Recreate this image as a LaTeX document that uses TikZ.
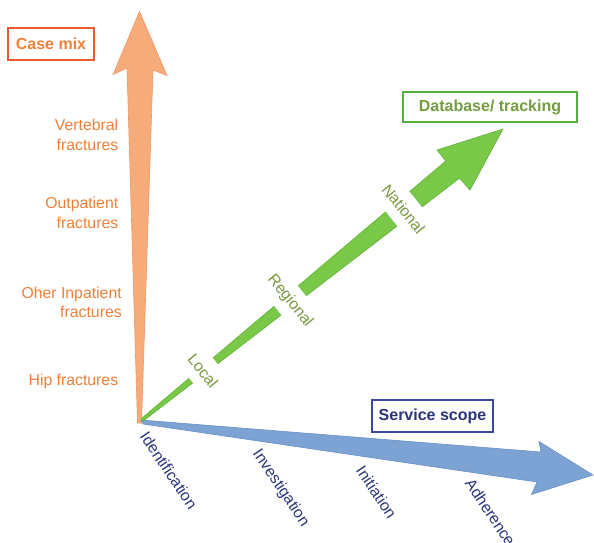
\documentclass[tikz,border=0pt]{standalone}
\usepackage{fontspec}
\setmainfont{Liberation Sans}
\usepackage{tkz-euclide}
\definecolor{mixfill}{RGB}{246,172,122}
\definecolor{mixline}{RGB}{240,150,100}
\definecolor{mixtext}{RGB}{238,128,58}
\definecolor{mixframe}{RGB}{232,92,52}
\definecolor{scopefill}{RGB}{124,163,212}
\definecolor{scopeline}{RGB}{104,144,198}
\definecolor{scopetext}{RGB}{42,52,122}
\definecolor{scopeframe}{RGB}{62,72,160}
\definecolor{dbfill}{RGB}{122,200,72}
\definecolor{dbline}{RGB}{96,180,52}
\definecolor{dbtext}{RGB}{122,152,64}
\definecolor{dbframe}{RGB}{84,176,62}

\begin{document}
\begin{tikzpicture}[x=1pt,y=-1pt,semithick,
lbl/.style={font=\fontsize{15.8}{19.5}\selectfont,inner sep=0pt},
axbox/.style={draw,line width=1.5pt,font=\fontsize{16}{18}\selectfont\bfseries,inner sep=0pt},
fracture/.style={lbl,text=mixtext,align=right,anchor=east},
phase/.style={lbl,text=scopetext,rotate=-56,anchor=north west},
level/.style={lbl,text=dbtext,fill=white,rotate=-51,minimum height=31pt,inner xsep=3pt}]
\useasboundingbox (0,0) rectangle (594,543);
\tkzDefPoints{137.5/423/M1,127/68/M2,113/74.5/M3,139.5/11.5/M4,167/75.5/M5,153/70/M6,141.5/423/M7}
\tkzDefPoints{141/420/S1,541/452/S2,539/441.5/S3,593/475/S4,531.5/494.5/S5,537/482/S6,143/424/S7}
\tkzDefPoints{141.1/418.8/D1,445.7/161/D2,437/150/D3,503/129/D4,470/190/D5,459.5/178.2/D6,142.9/421.2/D7}
\draw[mixline,fill=mixfill](M1)--(M2)--(M3)--(M4)--(M5)--(M6)--(M7)--cycle;
\draw[scopeline,fill=scopefill](S1)--(S2)--(S3)--(S4)--(S5)--(S6)--(S7)--cycle;
\draw[dbline,fill=dbfill](D1)--(D2)--(D3)--(D4)--(D5)--(D6)--(D7)--cycle;
\node[level] (local) at (203.1,370.7) {Local};
\node[level] (regional) at (289.9,300.8) {Regional};
\node[level] (national) at (403.6,209.1) {National};
\node[axbox,draw=mixframe,text=mixtext,line width=2pt,minimum width=86pt,minimum height=32pt] (casemix) at (51,44) {Case mix};
\node[axbox,draw=dbframe,text=dbtext!85!dbframe,minimum width=174pt,minimum height=30pt] (database) at (490,107) {Database/ tracking};
\node[axbox,draw=scopeframe,text=scopetext,minimum width=121pt,minimum height=32pt] (scope) at (432.5,416) {Service scope};
\node[fracture] (vertebral) at (118.5,135) {Vertebral\\fractures};
\node[fracture] (outpatient) at (118.5,213) {Outpatient\\fractures};
\node[fracture] (inpatient) at (122,302.5) {Oher Inpatient\\fractures};
\node[fracture] (hip) at (118.5,381.5) {Hip fractures};
\node[phase] (identification) at (149,430) {Identification};
\node[phase] (investigation) at (262,447) {Investigation};
\node[phase] (initiation) at (365,464) {Initiation};
\node[phase] (adherence) at (474,477) {Adherence};
\end{tikzpicture}
\end{document}
